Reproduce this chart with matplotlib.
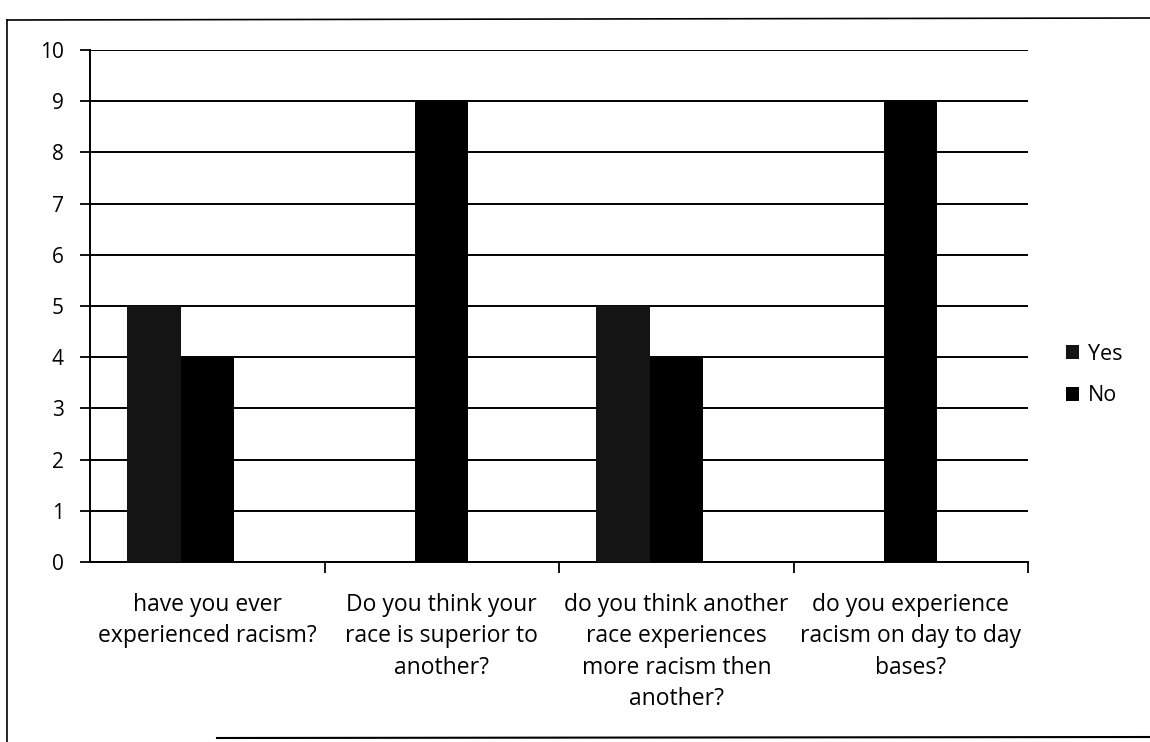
"""
plot.py
Clustered bar chart of yes/no answers to four racism survey questions.
"""

import matplotlib
matplotlib.use("Agg")
import matplotlib.pyplot as plt
from matplotlib.lines import Line2D
import numpy as np

plt.rcParams['font.family'] = ['Open Sans', 'DejaVu Sans']

questions = [
    "have you ever\nexperienced racism?",
    "Do you think your\nrace is superior to\nanother?",
    "do you think another\nrace experiences\nmore racism then\nanother?",
    "do you experience\nracism on day to day\nbases?",
]
yes_counts = [5, 0, 5, 0]
no_counts = [4, 9, 4, 9]
series_names = ["Yes", "No"]
series_colors = ["#141414", "#000000"]

# Excel left room for three bars per cluster, only two are filled
slots = 3
bar_w = 0.227

fig = plt.figure(figsize=(11.5, 7.42), dpi=100)
ax = fig.add_axes([0.0783, 0.2426, 0.8157, 0.69])

x = np.arange(len(questions))
for i, (vals, name, col) in enumerate(zip([yes_counts, no_counts], series_names, series_colors)):
    offset = (i - (slots - 1) / 2) * bar_w
    ax.bar(x + offset, vals, width=bar_w, color=col, label=name, zorder=3)

ax.set_xlim(-0.5, len(questions) - 0.5)
ax.set_ylim(0, 10)
ax.set_yticks(range(0, 11))
ax.grid(axis='y', color='black', linewidth=1.4, zorder=0)
ax.set_axisbelow(True)

for side in ['top', 'right']:
    ax.spines[side].set_visible(False)
ax.spines['left'].set_linewidth(1.4)
ax.spines['bottom'].set_linewidth(1.4)

# category labels centred, tick marks between categories
ax.set_xticks(x)
ax.set_xticklabels(questions, fontsize=16.5, linespacing=1.42)
ax.tick_params(axis='x', length=0, pad=22)
ax.set_xticks(np.arange(0.5, len(questions), 1.0), minor=True)
ax.tick_params(axis='x', which='minor', length=8, width=1.3, direction='out')
ax.tick_params(axis='y', length=7, width=1.3, labelsize=15, pad=12)

leg = ax.legend(loc='center left', bbox_to_anchor=(1.02, 0.365), frameon=False,
                fontsize=15.5, handlelength=0.6, handleheight=0.6,
                handletextpad=0.4, labelspacing=0.95)

# scanned page border
fig.add_artist(Line2D([7 / 1150, 7 / 1150], [0, 1 - 20 / 742], color='black',
                      linewidth=1.2, transform=fig.transFigure))
fig.add_artist(Line2D([7 / 1150, 1], [1 - 20 / 742, 1 - 18 / 742], color='black',
                      linewidth=1.2, transform=fig.transFigure))
fig.add_artist(Line2D([217 / 1150, 1], [1 - 738 / 742, 1 - 737 / 742], color='black',
                      linewidth=1.5, transform=fig.transFigure))

fig.savefig("out.png", dpi=100)
